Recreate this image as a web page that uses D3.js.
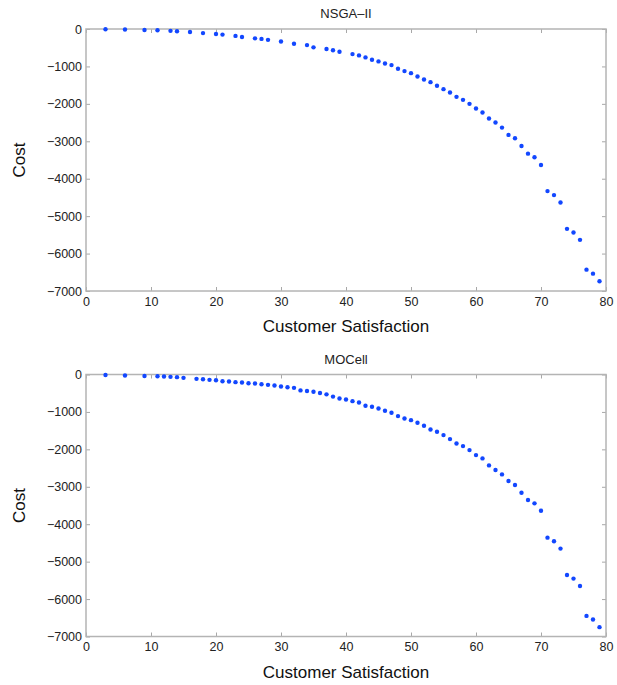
<!DOCTYPE html>
<html>
<head>
<meta charset="utf-8">
<script src="https://cdn.jsdelivr.net/npm/d3@7"></script>
<style>
  body { margin: 0; background: #fff; }
</style>
</head>
<body>
<svg width="617" height="685" font-family="Liberation Sans, Arial, Helvetica, sans-serif"></svg>
<script>
// Data per algoritme (Customer Satisfaction, Cost)
const nsgaSatisfaction = [3, 6, 9, 11, 13, 14, 16, 18, 20, 21, 23, 24, 26, 27, 28, 30, 32, 34, 35, 37, 38, 39,
  41, 42, 43, 44, 45, 46, 47, 48, 49, 50, 51, 52, 53, 54, 55, 56, 57, 58, 59, 60, 61, 62, 63, 64, 65, 66, 67, 68, 69,
  70, 71, 72, 73, 74, 75, 76, 77, 78, 79];
const nsgaCost = [-5, -15, -25, -35, -50, -60, -80, -110, -135, -150, -185, -215, -250, -265, -290, -335, -395, -430, -490, -536, -567, -607,
  -670, -705, -759, -821, -866, -920, -964, -1063, -1125, -1179, -1268, -1348, -1420, -1518, -1607, -1696, -1813, -1893, -2000, -2125, -2232, -2393, -2500, -2634, -2830, -2920, -3125, -3330, -3425,
  -3634, -4331, -4438, -4634, -5340, -5438, -5634, -6429, -6536, -6741];

const mocellSatisfaction = [3, 6, 9, 11, 12, 13, 14, 15, 17, 18, 19, 20, 21, 22, 23, 24, 25, 26, 27, 28, 29, 30, 31, 32, 33, 34, 35, 36, 37, 38, 39,
  40, 41, 42, 43, 44, 45, 46, 47, 48, 49, 50, 51, 52, 53, 54, 55, 56, 57, 58, 59, 60, 61, 62, 63, 64, 65, 66, 67, 68, 69,
  70, 71, 72, 73, 74, 75, 76, 77, 78, 79];
const mocellCost = [-15, -25, -40, -45, -54, -63, -71, -89, -116, -125, -143, -152, -179, -188, -205, -214, -232, -241, -259, -277, -295, -321, -339, -357, -425, -440, -460, -495, -530, -590, -641,
  -667, -712, -747, -836, -863, -907, -970, -1023, -1112, -1174, -1219, -1290, -1370, -1468, -1530, -1619, -1726, -1842, -1913, -2020, -2153, -2242, -2429, -2553, -2669, -2847, -2954, -3158, -3354, -3443,
  -3640, -4359, -4456, -4652, -5355, -5453, -5649, -6450, -6546, -6750];

const xTicks = [0, 10, 20, 30, 40, 50, 60, 70, 80];
const yTicks = [0, -1000, -2000, -3000, -4000, -5000, -6000, -7000];

const svg = d3.select("svg");

const margin = { left: 86, right: 11 };
const innerWidth = 617 - margin.left - margin.right;
const innerHeight = 262;

const xScale = d3.scaleLinear().domain([0, 80]).range([0, innerWidth]);
const yScale = d3.scaleLinear().domain([-7000, 0]).range([innerHeight, 0]);

const fmt = d => d3.format("d")(d).replace("-", "\u2013");

// Ticks naar binnen, tekst in de juiste maat, geen domain-lijn
function styleAxis(sel, labels) {
  sel.attr("font-family", null).attr("font-size", null);
  sel.select(".domain").remove();
  sel.selectAll(".tick line").attr("stroke", "#a8a8a8");
  if (labels) {
    sel.selectAll(".tick text").attr("fill", "#222").attr("font-size", 12.5);
  } else {
    sel.selectAll(".tick text").remove();
  }
}

function drawPanel(top, title, xs, costs) {
  const data = xs.map((x, i) => ({ x: x, cost: costs[i] }));

  const g = svg.append("g")
    .attr("transform", `translate(${margin.left},${top})`);

  g.append("g")
    .attr("transform", `translate(0,${innerHeight})`)
    .call(d3.axisBottom(xScale).tickValues(xTicks).tickSize(-4).tickPadding(6).tickFormat(d3.format("d")))
    .call(styleAxis, true);
  g.append("g")
    .call(d3.axisTop(xScale).tickValues(xTicks).tickSize(-4))
    .call(styleAxis, false);
  g.append("g")
    .call(d3.axisLeft(yScale).tickValues(yTicks).tickSize(-4).tickPadding(4).tickFormat(fmt))
    .call(styleAxis, true);
  g.append("g")
    .attr("transform", `translate(${innerWidth},0)`)
    .call(d3.axisRight(yScale).tickValues(yTicks).tickSize(-4))
    .call(styleAxis, false);

  // Kader om de plot
  g.append("rect")
    .attr("width", innerWidth)
    .attr("height", innerHeight)
    .attr("fill", "none")
    .attr("stroke", "#b4b4b4")
    .attr("stroke-width", 1.5);

  // Punten
  g.selectAll("circle")
    .data(data)
    .enter()
    .append("circle")
    .attr("cx", d => xScale(d.x))
    .attr("cy", d => yScale(d.cost))
    .attr("r", 2.2)
    .attr("fill", "#1247ff");

  g.append("text")
    .attr("x", innerWidth / 2)
    .attr("y", -11)
    .attr("text-anchor", "middle")
    .attr("font-size", 13)
    .attr("fill", "#222")
    .text(title);

  g.append("text")
    .attr("x", innerWidth / 2)
    .attr("y", innerHeight + 41)
    .attr("text-anchor", "middle")
    .attr("font-size", 17)
    .attr("fill", "#111")
    .text("Customer Satisfaction");

  g.append("text")
    .attr("transform", `translate(${25 - margin.left},${innerHeight / 2}) rotate(-90)`)
    .attr("text-anchor", "middle")
    .attr("font-size", 17)
    .attr("fill", "#111")
    .text("Cost");
}

drawPanel(29, "NSGA\u2013II", nsgaSatisfaction, nsgaCost);
drawPanel(374.5, "MOCell", mocellSatisfaction, mocellCost);
</script>
</body>
</html>
